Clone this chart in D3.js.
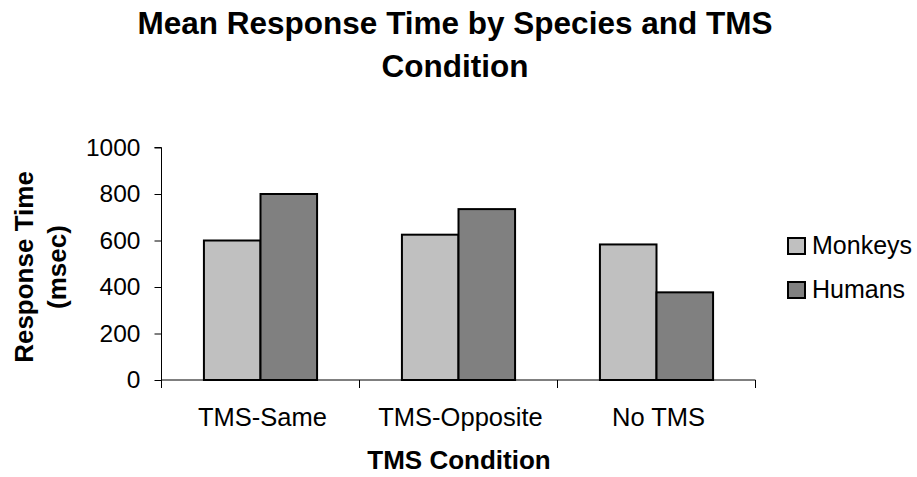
<!DOCTYPE html>
<html>
<head>
<meta charset="utf-8">
<script src="https://cdn.jsdelivr.net/npm/d3@7"></script>
<style>
  body { margin: 0; background: #fff; }
  svg { display: block; font-family: Arial, "Liberation Sans", sans-serif; }
</style>
</head>
<body>
<svg></svg>
<script>
    /* chart data */
    let categories = ["TMS-Same", "TMS-Opposite", "No TMS"];
    let seriesNames = ["Monkeys", "Humans"];
    let monkeys = [600, 625, 583];
    let humans = [800, 735, 377];
    let yTicks = [0, 200, 400, 600, 800, 1000];
    let colors = ["#c0c0c0", "#808080"];

    let width = 917;
    let height = 477;
    let plotLeft = 161.5, plotRight = 755.5, plotTop = 147.5, plotBottom = 380;

    const svg = d3.select("svg").attr("width", width).attr("height", height);

    let rows = categories.map((c, i) => ({ cat: c, vals: [monkeys[i], humans[i]] }));

    let x0 = d3.scaleBand().domain(categories).range([plotLeft, plotRight]).padding(0);
    let x1 = d3.scaleBand().domain(seriesNames).range([0, x0.bandwidth()])
                .paddingInner(0).paddingOuter(0.75);
    let y = d3.scaleLinear().domain([0, 1000]).range([plotBottom, plotTop]);

    // bars
    let groups = svg.selectAll("g.grp").data(rows).enter().append("g")
        .attr("class", "grp")
        .attr("transform", d => "translate(" + x0(d.cat) + ",0)");
    groups.selectAll("rect").data(d => d.vals.map((v, i) => ({ name: seriesNames[i], v: v, i: i })))
        .enter().append("rect")
        .attr("x", d => x1(d.name))
        .attr("width", x1.bandwidth())
        .attr("y", d => y(d.v))
        .attr("height", d => y(0) - y(d.v))
        .attr("fill", d => colors[d.i])
        .attr("stroke", "#000")
        .attr("stroke-width", 2);

    // y axis
    let yAxis = d3.axisLeft(y).tickValues(yTicks).tickSize(7).tickPadding(14).tickFormat(d3.format("d"));
    let gy = svg.append("g").attr("transform", "translate(" + plotLeft + ",0)").call(yAxis);
    gy.select(".domain").attr("stroke", "#000").attr("d", "M-7," + y(1000) + "H0V" + y(0));
    gy.selectAll("text").attr("font-size", 24.5).attr("fill", "#000").attr("font-family", "Arial, 'Liberation Sans', sans-serif");

    // x axis: line plus boundary ticks
    let xg = svg.append("g");
    xg.append("line").attr("x1", plotLeft).attr("x2", plotRight).attr("y1", plotBottom).attr("y2", plotBottom)
        .attr("stroke", "#000");
    let bounds = categories.map(c => x0(c)).concat([x0(categories[categories.length - 1]) + x0.bandwidth()]);
    xg.selectAll("line.tk").data(bounds).enter().append("line").attr("class", "tk")
        .attr("x1", d => d).attr("x2", d => d)
        .attr("y1", plotBottom).attr("y2", plotBottom + 8)
        .attr("stroke", "#000");
    xg.selectAll("text").data(categories).enter().append("text")
        .attr("x", d => x0(d) + x0.bandwidth() / 2 + 2)
        .attr("y", plotBottom + 28)
        .attr("dy", "0.71em")
        .attr("text-anchor", "middle")
        .attr("font-size", 25.5)
        .text(d => d);

    // titles
    svg.append("text").attr("x", 455).attr("y", 34).attr("text-anchor", "middle")
        .attr("font-size", 31.5).attr("font-weight", "bold").text("Mean Response Time by Species and TMS");
    svg.append("text").attr("x", 455).attr("y", 77).attr("text-anchor", "middle")
        .attr("font-size", 31.5).attr("font-weight", "bold").text("Condition");

    svg.append("text").attr("x", 459).attr("y", 469).attr("text-anchor", "middle")
        .attr("font-size", 26).attr("font-weight", "bold").text("TMS Condition");

    let yl = svg.append("g").attr("transform", "translate(0,267) rotate(-90)");
    yl.append("text").attr("x", 0).attr("y", 33).attr("text-anchor", "middle")
        .attr("font-size", 26).attr("font-weight", "bold").text("Response Time");
    yl.append("text").attr("x", 0).attr("y", 66).attr("text-anchor", "middle")
        .attr("font-size", 26).attr("font-weight", "bold").text("(msec)");

    // legend
    let leg = svg.selectAll("g.leg").data(seriesNames).enter().append("g")
        .attr("class", "leg")
        .attr("transform", (d, i) => "translate(788," + (238 + i * 44) + ")");
    leg.append("rect").attr("width", 17).attr("height", 16)
        .attr("fill", (d, i) => colors[i]).attr("stroke", "#000").attr("stroke-width", 2);
    leg.append("text").attr("x", 24).attr("y", 16).attr("font-size", 25).text(d => d);
</script>
</body>
</html>
